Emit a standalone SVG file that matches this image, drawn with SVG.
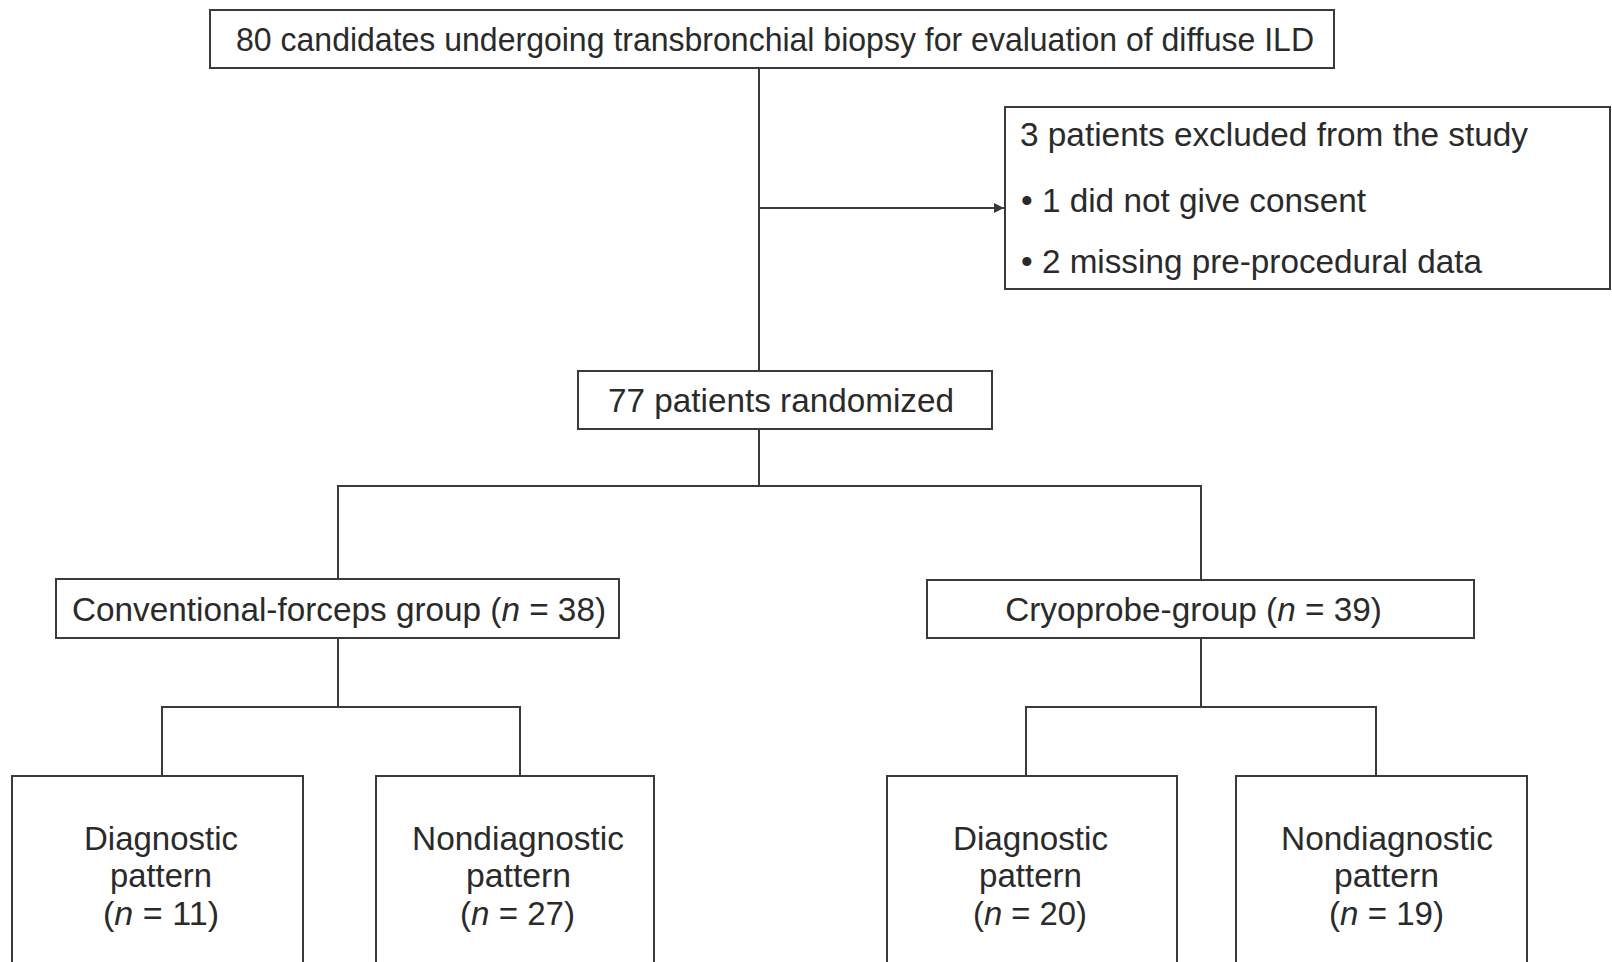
<svg xmlns="http://www.w3.org/2000/svg" width="1612" height="962" viewBox="0 0 1612 962">
<defs>
<style>
.box{fill:#fff;stroke:#3a3a3a;stroke-width:2}
.ln{fill:none;stroke:#3a3a3a;stroke-width:2}
text{font-family:"Liberation Sans",Arial,sans-serif;font-size:34px;fill:#2a2a2a}
.c{text-anchor:middle}
.g{font-size:33.3px}
.i{font-style:italic}
</style>
<marker id="arr" viewBox="0 0 10 10" refX="10" refY="5" markerWidth="5" markerHeight="5" orient="auto" markerUnits="strokeWidth">
<path d="M0,0 L10,5 L0,10 z" fill="#3a3a3a"/>
</marker>
</defs>
<rect width="1612" height="962" fill="#fff"/>
<g id="connectors">
<line class="ln" x1="759" y1="68" x2="759" y2="371"/>
<line class="ln" x1="759" y1="208" x2="1004" y2="208" marker-end="url(#arr)"/>
<polyline class="ln" points="759,429 759,486"/>
<polyline class="ln" points="338,579 338,486 1201,486 1201,580"/>
<polyline class="ln" points="338,638 338,707"/>
<polyline class="ln" points="162,776 162,707 520,707 520,776"/>
<polyline class="ln" points="1201,638 1201,707"/>
<polyline class="ln" points="1026,776 1026,707 1376,707 1376,776"/>
</g>
<g id="n-candidates">
<rect class="box" x="210" y="10" width="1124" height="58"/>
<text x="236" y="51" textLength="1078" lengthAdjust="spacingAndGlyphs">80 candidates undergoing transbronchial biopsy for evaluation of diffuse ILD</text>
</g>
<g id="n-excluded">
<rect class="box" x="1005" y="107" width="605" height="182"/>
<text x="1020" y="146" textLength="508" lengthAdjust="spacingAndGlyphs">3 patients excluded from the study</text>
<text x="1021" y="212" textLength="345" lengthAdjust="spacingAndGlyphs">• 1 did not give consent</text>
<text x="1021" y="273" textLength="461" lengthAdjust="spacingAndGlyphs">• 2 missing pre-procedural data</text>
</g>
<g id="n-randomized">
<rect class="box" x="578" y="371" width="414" height="58"/>
<text x="608" y="412" textLength="346" lengthAdjust="spacingAndGlyphs">77 patients randomized</text>
</g>
<g id="n-forceps">
<rect class="box" x="56" y="579" width="563" height="59"/>
<text class="c g" x="339" y="621">Conventional-forceps group (<tspan class="i">n</tspan> = 38)</text>
</g>
<g id="n-cryo">
<rect class="box" x="927" y="580" width="547" height="58"/>
<text class="c g" x="1193.5" y="621">Cryoprobe-group (<tspan class="i">n</tspan> = 39)</text>
</g>
<g id="n-f-diag">
<rect class="box" x="12" y="776" width="291" height="200"/>
<text x="84" y="850" textLength="154" lengthAdjust="spacingAndGlyphs">Diagnostic</text>
<text x="110" y="887" textLength="102" lengthAdjust="spacingAndGlyphs">pattern</text>
<text x="103" y="925" textLength="116" lengthAdjust="spacingAndGlyphs">(<tspan class="i">n</tspan> = 11)</text>
</g>
<g id="n-f-nondiag">
<rect class="box" x="376" y="776" width="278" height="200"/>
<text x="412" y="850" textLength="212" lengthAdjust="spacingAndGlyphs">Nondiagnostic</text>
<text x="466" y="887" textLength="105" lengthAdjust="spacingAndGlyphs">pattern</text>
<text x="460" y="925" textLength="115" lengthAdjust="spacingAndGlyphs">(<tspan class="i">n</tspan> = 27)</text>
</g>
<g id="n-c-diag">
<rect class="box" x="887" y="776" width="290" height="200"/>
<text x="953" y="850" textLength="155" lengthAdjust="spacingAndGlyphs">Diagnostic</text>
<text x="979" y="887" textLength="103" lengthAdjust="spacingAndGlyphs">pattern</text>
<text x="973" y="925" textLength="114" lengthAdjust="spacingAndGlyphs">(<tspan class="i">n</tspan> = 20)</text>
</g>
<g id="n-c-nondiag">
<rect class="box" x="1236" y="776" width="291" height="200"/>
<text x="1281" y="850" textLength="212" lengthAdjust="spacingAndGlyphs">Nondiagnostic</text>
<text x="1334" y="887" textLength="105" lengthAdjust="spacingAndGlyphs">pattern</text>
<text x="1329" y="925" textLength="115" lengthAdjust="spacingAndGlyphs">(<tspan class="i">n</tspan> = 19)</text>
</g>
</svg>
